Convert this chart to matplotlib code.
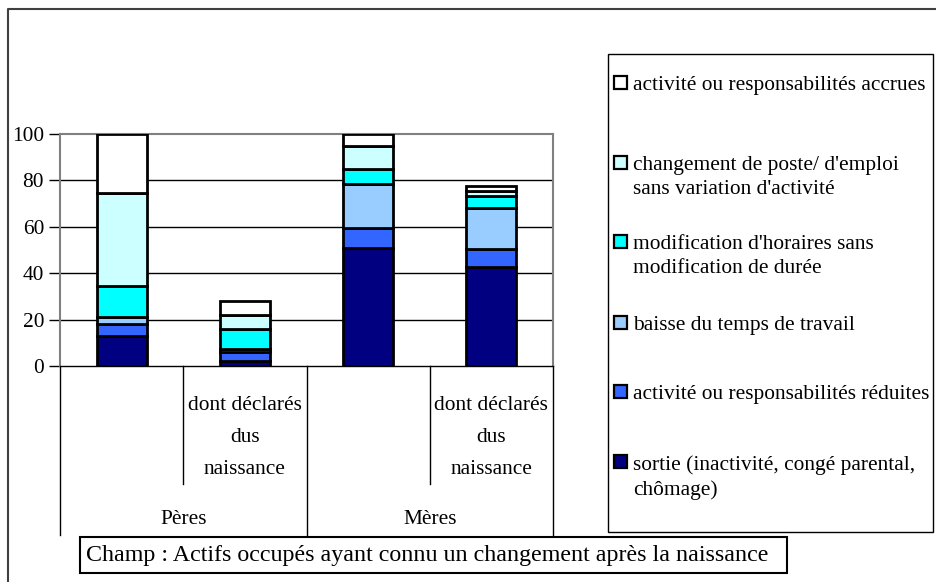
import matplotlib.pyplot as plt
from matplotlib.patches import Rectangle
from matplotlib.lines import Line2D

plt.rcParams['font.family'] = ['Liberation Serif', 'DejaVu Serif']

# ---- données ----
groupes = ['Pères', 'Mères']
sous_cat = ['', 'dont déclarés\ndus\nnaissance', '', 'dont déclarés\ndus\nnaissance']

sortie = [13, 2.3, 51, 42.5]
reduites = [5, 3.6, 8.3, 7.8]
baisse = [3, 1.4, 19, 17.7]
horaires = [13.5, 8.7, 6.5, 5.4]
changement = [40, 6, 10, 2.2]
accrues = [25.5, 6, 5.2, 2]

series = [sortie, reduites, baisse, horaires, changement, accrues]
couleurs = ['#000080', '#3366FF', '#99CCFF', '#00FFFF', '#CCFFFF', '#FFFFFF']
libelles = [
    'sortie (inactivité, congé parental,\nchômage)',
    'activité ou responsabilités réduites',
    'baisse du temps de travail',
    "modification d'horaires sans\nmodification de durée",
    "changement de poste/ d'emploi\nsans variation d'activité",
    'activité ou responsabilités accrues',
]
note = 'Champ : Actifs occupés ayant connu un changement après la naissance'

W, H = 937, 582
FS = 15.4
FS_NOTE = 17.3


def px(x, y):
    # pixels (origine en haut à gauche) -> coordonnées figure
    return x / W, 1 - y / H


fig = plt.figure(figsize=(W / 100, H / 100), dpi=100)
ax = fig.add_axes([60 / W, (H - 366) / H, (553 - 60) / W, (366 - 134) / H])

x = range(len(sortie))
bas = [0] * len(sortie)
for vals, col in zip(series, couleurs):
    ax.bar(x, vals, bottom=bas, width=0.405, color=col,
           edgecolor='black', linewidth=2, zorder=3)
    bas = [b + v for b, v in zip(bas, vals)]

ax.set_xlim(-0.5, 3.5)
ax.set_ylim(0, 100)
ax.set_yticks(range(0, 101, 20))
ax.set_yticklabels([str(v) for v in range(0, 101, 20)], fontsize=FS)
ax.tick_params(axis='y', direction='out', length=8, width=1, pad=3.5)
ax.set_xticks([])
for yv in (20, 40, 60, 80):
    ax.axhline(yv, color='black', lw=1, zorder=1)
for s in ('top', 'right', 'left'):
    ax.spines[s].set_color('#808080')
    ax.spines[s].set_linewidth(1.5)
ax.spines['bottom'].set_color('black')
ax.spines['bottom'].set_linewidth(1)

# axe des catégories sur deux niveaux
tr = ax.get_xaxis_transform()
def yf(ypix):
    return (366 - ypix) / (366 - 134)

for xb in (-0.5, 1.5, 3.5):
    ax.add_line(Line2D([xb, xb], [0, yf(535)], transform=tr, color='black',
                       lw=1, clip_on=False))
for xb in (0.5, 2.5):
    ax.add_line(Line2D([xb, xb], [0, yf(484)], transform=tr, color='black',
                       lw=1, clip_on=False))
for i, lab in enumerate(sous_cat):
    if lab:
        ax.text(i, yf(437.5), lab, transform=tr, ha='center', va='center',
                fontsize=FS, linespacing=1.9)
for i, g in enumerate(groupes):
    ax.text(2 * i + 0.5, yf(520), g, transform=tr, ha='center', va='center',
            fontsize=FS)

# cadre extérieur
fig.add_artist(Line2D([8 / W, 8 / W, 1], [0, 1 - 9 / H, 1 - 9 / H],
                      transform=fig.transFigure, color='#404040', lw=1.5))

# légende
x0, y0 = px(608, 532)
fig.add_artist(Rectangle((x0, y0), (933 - 608) / W, (532 - 54) / H,
                         transform=fig.transFigure, facecolor='white',
                         edgecolor='black', lw=1))
y_lignes = [462, 392, 323, 242, 163, 83]
for lab, col, yl in zip(libelles, couleurs, y_lignes):
    rx, ry = px(614, yl + 6)
    fig.add_artist(Rectangle((rx, ry), 13 / W, 13 / H,
                             transform=fig.transFigure, facecolor=col,
                             edgecolor='black', lw=1.6))
    tx, ty = px(633, yl - 7)
    fig.text(tx, ty, lab, ha='left', va='top', fontsize=FS, linespacing=1.36)

# note
nx, ny = px(80, 573)
fig.add_artist(Rectangle((nx, ny), (787 - 80) / W, (573 - 537) / H,
                         transform=fig.transFigure, facecolor='white',
                         edgecolor='black', lw=1.5))
tx, ty = px(86, 555)
fig.text(tx, ty, note, ha='left', va='center', fontsize=FS_NOTE)

fig.savefig('out.png', dpi=100)
